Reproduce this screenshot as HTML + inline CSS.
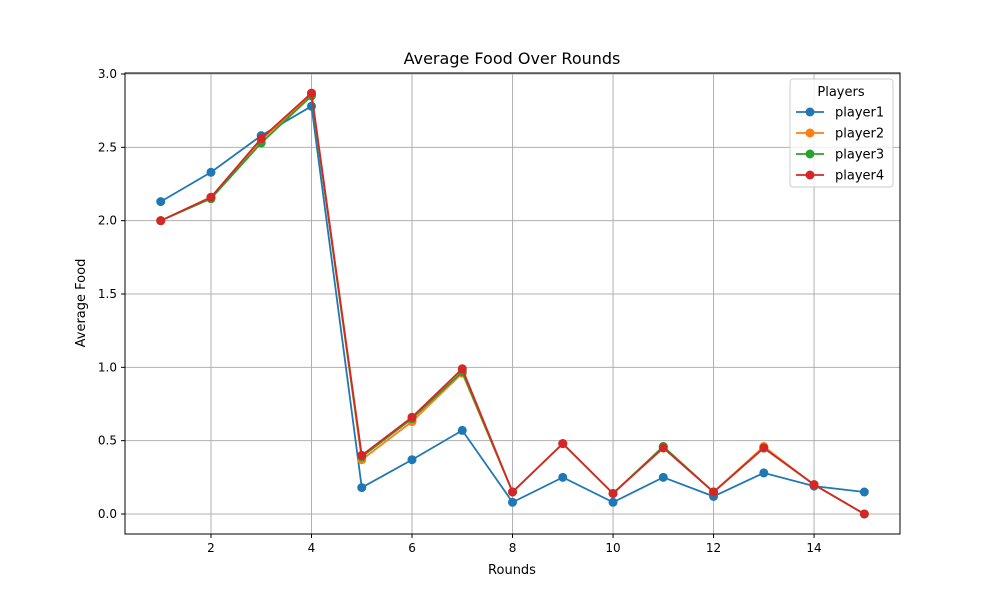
<!DOCTYPE html>
<html><head><meta charset="utf-8"><style>
body{margin:0;background:#fff;}
svg{font-family:"DejaVu Sans","Liberation Sans",sans-serif;}
</style></head><body>
<svg id="chart" width="1000" height="600">
<rect width="1000" height="600" fill="#fff"/>
<text x="512" y="64" text-anchor="middle" font-size="16">Average Food Over Rounds</text>
<text x="512" y="574" text-anchor="middle" font-size="13">Rounds</text>
<text x="85" y="303" text-anchor="middle" font-size="13" transform="rotate(-90 85 303)">Average Food</text>
<g id="grid"></g><g id="ticks"></g><g id="series"></g>
<rect x="125" y="73" width="775" height="461" fill="none" stroke="#000" stroke-width="1"/>
<g id="legend"></g>
</svg>
<script>
const rounds=[1,2,3,4,5,6,7,8,9,10,11,12,13,14,15];
const player1=[2.13,2.33,2.58,2.78,0.18,0.37,0.57,0.08,0.25,0.08,0.25,0.12,0.28,0.19,0.15];
const player2=[2.0,2.16,2.55,2.86,0.37,0.63,0.96,0.15,0.48,0.14,0.46,0.15,0.46,0.20,0.0];
const player3=[2.0,2.15,2.53,2.85,0.39,0.65,0.97,0.15,0.48,0.14,0.46,0.15,0.45,0.20,0.0];
const player4=[2.0,2.16,2.56,2.87,0.40,0.66,0.99,0.15,0.48,0.14,0.45,0.15,0.45,0.20,0.0];
const seriesNames=["player1","player2","player3","player4"];
const xTicks=[2,4,6,8,10,12,14];
const yTicks=[0,0.5,1.0,1.5,2.0,2.5,3.0];
const yTickLabels=["0.0","0.5","1.0","1.5","2.0","2.5","3.0"];
const colors=["#1f77b4","#ff7f0e","#2ca02c","#d62728"];
const NS="http://www.w3.org/2000/svg";
const L=125,R=900,T=73,B=534;
const xMin=0.289,xMax=15.71,yMin=-0.1364,yMax=3.0068;
const xs=v=>L+(v-xMin)/(xMax-xMin)*(R-L);
const ys=v=>B-(v-yMin)/(yMax-yMin)*(B-T);
function mk(t,a,p){const e=document.createElementNS(NS,t);for(const k in a)e.setAttribute(k,a[k]);p.appendChild(e);return e;}
const g=document.getElementById('grid'),tk=document.getElementById('ticks'),sg=document.getElementById('series'),lg=document.getElementById('legend');
xTicks.forEach(v=>{const x=xs(v);
 let l=mk('line',{x1:x,x2:x,y1:T,y2:B,stroke:'#b0b0b0','stroke-width':1},g);
 
 mk('line',{x1:x,x2:x,y1:B,y2:B+4,stroke:'#000'},tk);
 let t=mk('text',{x:x,y:B+18,'text-anchor':'middle','font-size':12},tk);t.textContent=v;
 });
yTicks.forEach((v,i)=>{const y=ys(v);
 let l=mk('line',{x1:L,x2:R,y1:y,y2:y,stroke:'#b0b0b0','stroke-width':1},g);
 
 mk('line',{x1:L-4,x2:L,y1:y,y2:y,stroke:'#000'},tk);
 let t=mk('text',{x:L-8,y:y+4,'text-anchor':'end','font-size':12},tk);t.textContent=yTickLabels[i];
 });
[player1,player2,player3,player4].forEach((d,si)=>{
 const grp=mk('g',{},sg);
 
 mk('polyline',{points:d.map((v,i)=>xs(rounds[i])+','+ys(v)).join(' '),fill:'none',stroke:colors[si],'stroke-width':1.8},grp);
 d.forEach((v,i)=>{const c=mk('circle',{cx:xs(rounds[i]),cy:ys(v),r:4.5,fill:colors[si]},grp);
  });
});
mk('rect',{x:790,y:79,width:103,height:108,rx:3,fill:'#fff','fill-opacity':0.8,stroke:'#ccc'},lg);
let lt=mk('text',{x:841,y:96,'text-anchor':'middle','font-size':13},lg);lt.textContent='Players';
seriesNames.forEach((n,i)=>{const y=112+i*21;
 const e=mk('g',{},lg);
 
 mk('line',{x1:796,x2:824,y1:y,y2:y,stroke:colors[i],'stroke-width':1.8},e);
 mk('circle',{cx:810,cy:y,r:4.5,fill:colors[i]},e);
 const t=mk('text',{x:835,y:y+4.5,'font-size':13},e);t.textContent=n;});
</script>
</body></html>
